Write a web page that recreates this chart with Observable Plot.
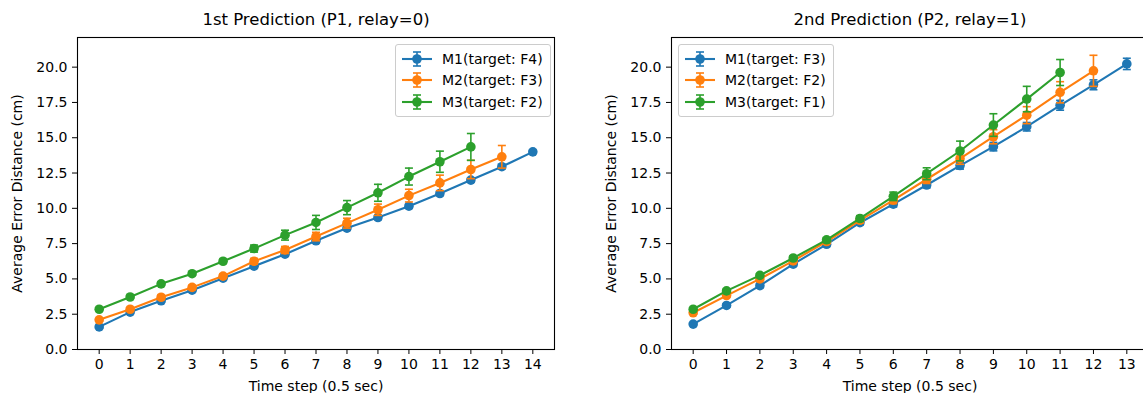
<!DOCTYPE html>
<html>
<head>
<meta charset="utf-8">
<script src="https://cdn.jsdelivr.net/npm/d3@7"></script>
<script src="https://cdn.jsdelivr.net/npm/@observablehq/plot@0.6"></script>
<style>
  html, body { margin: 0; padding: 0; background: #fff; overflow: hidden; }
  #wrap { position: relative; width: 1143px; height: 393px; overflow: hidden; font-family: "DejaVu Sans", sans-serif; }
  .panel { position: absolute; top: 0; }
  .legend { position: absolute; background: rgba(255,255,255,0.8); border: 1px solid #cccccc; border-radius: 3px;
            padding: 3px 7px 3px 6px; font-family: "DejaVu Sans", sans-serif; font-size: 14px; color: #000; }
  .legend .row { display: flex; align-items: center; height: 21.5px; white-space: nowrap; }
  .legend svg { margin-right: 10px; }
</style>
</head>
<body>
<div id="wrap"></div>
<script>
// ---------- data ----------
const seriesNames1 = ["M1(target: F4)", "M2(target: F3)", "M3(target: F2)"];
const seriesNames2 = ["M1(target: F3)", "M2(target: F2)", "M3(target: F1)"];
const colors = ["#1f77b4", "#ff7f0e", "#2ca02c"];
const titles = ["1st Prediction (P1, relay=0)", "2nd Prediction (P2, relay=1)"];
const xLabel = "Time step (0.5 sec)";
const yLabel = "Average Error Distance (cm)";
const yTicks = [0, 2.5, 5, 7.5, 10, 12.5, 15, 17.5, 20];
const xTicks1 = [0,1,2,3,4,5,6,7,8,9,10,11,12,13,14];
const xTicks2 = [0,1,2,3,4,5,6,7,8,9,10,11,12,13];

// Panel 1 (P1, relay=0)
const p1_m1 = [1.6, 2.65, 3.45, 4.2, 5.05, 5.9, 6.75, 7.7, 8.6, 9.35, 10.15, 11.05, 12.0, 12.95, 14.0];
const p1_m1_err = [0.1, 0.1, 0.1, 0.1, 0.1, 0.12, 0.12, 0.15, 0.15, 0.15, 0.15, 0.15, 0.15, 0.15, 0.12];
const p1_m2 = [2.1, 2.85, 3.7, 4.4, 5.2, 6.25, 7.05, 8.0, 8.95, 9.9, 10.9, 11.8, 12.75, 13.65];
const p1_m2_err = [0.1, 0.1, 0.15, 0.15, 0.15, 0.2, 0.25, 0.3, 0.35, 0.4, 0.45, 0.55, 0.65, 0.8];
const p1_m3 = [2.85, 3.72, 4.65, 5.37, 6.25, 7.15, 8.1, 9.0, 10.05, 11.1, 12.25, 13.3, 14.35];
const p1_m3_err = [0.1, 0.1, 0.12, 0.12, 0.15, 0.25, 0.35, 0.5, 0.5, 0.6, 0.6, 0.75, 0.95];

// Panel 2 (P2, relay=1)
const p2_m1 = [1.8, 3.12, 4.52, 6.05, 7.45, 8.98, 10.3, 11.65, 13.03, 14.37, 15.78, 17.3, 18.75, 20.23];
const p2_m1_err = [0.1, 0.12, 0.15, 0.15, 0.15, 0.15, 0.2, 0.2, 0.25, 0.3, 0.3, 0.35, 0.35, 0.4];
const p2_m2 = [2.6, 3.82, 5.0, 6.28, 7.65, 9.15, 10.58, 12.06, 13.52, 15.07, 16.6, 18.22, 19.74];
const p2_m2_err = [0.1, 0.1, 0.12, 0.12, 0.15, 0.2, 0.25, 0.3, 0.4, 0.5, 0.6, 0.75, 1.1];
const p2_m3 = [2.85, 4.15, 5.25, 6.48, 7.77, 9.28, 10.85, 12.45, 14.06, 15.9, 17.74, 19.62];
const p2_m3_err = [0.1, 0.12, 0.12, 0.15, 0.15, 0.2, 0.3, 0.42, 0.7, 0.8, 0.9, 0.92];

// ---------- helpers ----------
const capSymbol = {
  draw(ctx, size) {
    const r = Math.sqrt(size / Math.PI);
    ctx.moveTo(-r, 0); ctx.lineTo(r, 0);
  }
};

function rowsOf(mean, err) {
  return mean.map((v, i) => ({t: i, v, lo: v - err[i], hi: v + err[i]}));
}

function seriesMarks(rows, color) {
  return [
    Plot.ruleX(rows, {x: "t", y1: "lo", y2: "hi", stroke: color, strokeWidth: 1.6}),
    Plot.dot(rows, {x: "t", y: "hi", symbol: capSymbol, r: 4, stroke: color, strokeWidth: 1.6}),
    Plot.dot(rows, {x: "t", y: "lo", symbol: capSymbol, r: 4, stroke: color, strokeWidth: 1.6}),
    Plot.line(rows, {x: "t", y: "v", stroke: color, strokeWidth: 2.1}),
    Plot.dot(rows, {x: "t", y: "v", r: 4.8, fill: color, stroke: "none"})
  ];
}

function panel({title, series, xTicks, xDomain, width, marginLeft, marginRight}) {
  return Plot.plot({
    width, height: 393,
    marginTop: 37, marginBottom: 44, marginLeft, marginRight,
    style: {fontFamily: "DejaVu Sans, sans-serif", fontSize: "14px", color: "#000", background: "transparent", overflow: "visible"},
    x: {domain: xDomain, ticks: xTicks, tickFormat: "d", tickSize: 5, tickPadding: 5,
        label: xLabel, labelAnchor: "center", labelArrow: "none", labelOffset: 41},
    y: {domain: [0, 22.1], ticks: yTicks, tickFormat: ".1f", tickSize: 5, tickPadding: 5,
        label: yLabel, labelAnchor: "center", labelArrow: "none", labelOffset: 65},
    marks: [
      ...series.flatMap(s => seriesMarks(s.rows, s.color)),
      Plot.frame({stroke: "#000", strokeWidth: 1.1}),
      Plot.text([title], {frameAnchor: "top", lineAnchor: "middle", dy: -18, fontSize: 16.5, fill: "#000"})
    ]
  });
}

function legend(names, left, top) {
  const div = document.createElement("div");
  div.className = "legend";
  div.style.left = left + "px";
  div.style.top = top + "px";
  names.forEach((n, i) => {
    const c = colors[i];
    const row = document.createElement("div");
    row.className = "row";
    row.innerHTML =
      `<svg width="30" height="20" viewBox="0 0 30 20">
         <line x1="0" x2="30" y1="10" y2="10" stroke="${c}" stroke-width="2.1"/>
         <line x1="15" x2="15" y1="3" y2="17" stroke="${c}" stroke-width="1.6"/>
         <line x1="11" x2="19" y1="3" y2="3" stroke="${c}" stroke-width="1.6"/>
         <line x1="11" x2="19" y1="17" y2="17" stroke="${c}" stroke-width="1.6"/>
         <circle cx="15" cy="10" r="4.8" fill="${c}"/>
       </svg><span>${n}</span>`;
    div.appendChild(row);
  });
  return div;
}

// ---------- build ----------
const wrap = document.getElementById("wrap");

const chart1 = panel({
  title: titles[0],
  series: [
    {rows: rowsOf(p1_m1, p1_m1_err), color: colors[0]},
    {rows: rowsOf(p1_m2, p1_m2_err), color: colors[1]},
    {rows: rowsOf(p1_m3, p1_m3_err), color: colors[2]}
  ],
  xTicks: xTicks1, xDomain: [-0.7, 14.7], width: 600, marginLeft: 77, marginRight: 46
});
chart1.classList.add("panel");
chart1.style.left = "0px";
wrap.appendChild(chart1);

const chart2 = panel({
  title: titles[1],
  series: [
    {rows: rowsOf(p2_m1, p2_m1_err), color: colors[0]},
    {rows: rowsOf(p2_m2, p2_m2_err), color: colors[1]},
    {rows: rowsOf(p2_m3, p2_m3_err), color: colors[2]}
  ],
  xTicks: xTicks2, xDomain: [-0.65, 13.65], width: 560, marginLeft: 71, marginRight: 12
});
chart2.classList.add("panel");
chart2.style.left = "600px";
wrap.appendChild(chart2);

wrap.appendChild(legend(seriesNames1, 395, 44));
wrap.appendChild(legend(seriesNames2, 678, 44));
</script>
</body>
</html>
